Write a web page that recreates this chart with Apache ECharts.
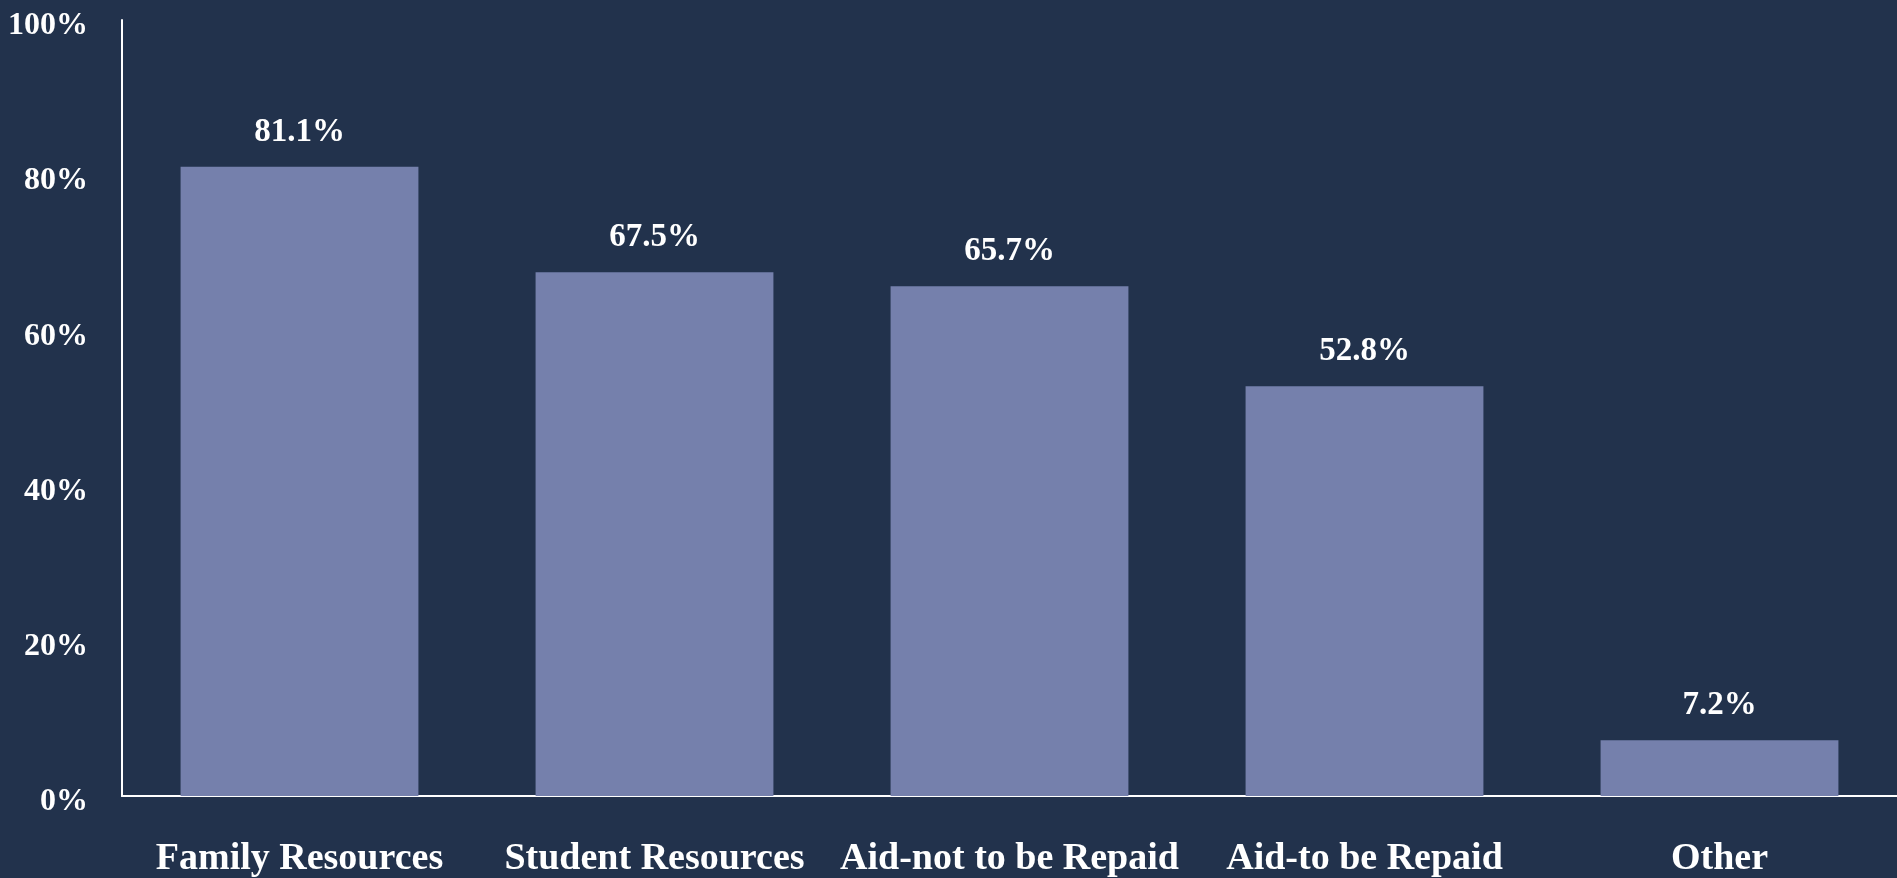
<!DOCTYPE html>
<html>
<head>
<meta charset="utf-8">
<script src="https://cdn.jsdelivr.net/npm/echarts@6/dist/echarts.min.js"></script>
<style>
  html, body { margin: 0; padding: 0; background: #22324c; }
  #chart { width: 1897px; height: 878px; }
</style>
</head>
<body>
<div id="chart"></div>
<script>
// data
const categories = ['Family Resources', 'Student Resources', 'Aid-not to be Repaid', 'Aid-to be Repaid', 'Other'];
const shares = [81.1, 67.5, 65.7, 52.8, 7.2];
const yTicks = [0, 20, 40, 60, 80, 100];

const serif = '"Liberation Serif", "DejaVu Serif", serif';

const chart = echarts.init(document.getElementById('chart'));
chart.setOption({
  backgroundColor: '#22324c',
  animation: false,
  grid: { left: 122, right: 0, top: 20, bottom: 82 },
  xAxis: {
    type: 'category',
    data: categories,
    axisLine: { lineStyle: { color: '#ffffff', width: 2 } },
    axisTick: { show: false },
    axisLabel: {
      color: '#ffffff',
      fontFamily: serif,
      fontSize: 38,
      fontWeight: 'bold',
      margin: 44,
      interval: 0
    }
  },
  yAxis: {
    type: 'value',
    min: yTicks[0],
    max: yTicks[yTicks.length - 1],
    interval: 20,
    axisLine: { show: true, lineStyle: { color: '#ffffff', width: 2 } },
    axisTick: { show: false },
    splitLine: { show: false },
    axisLabel: {
      margin: 34,
      formatter: '{t|{value}%}',
      rich: {
        t: {
          color: '#ffffff',
          fontFamily: serif,
          fontSize: 32,
          fontWeight: 'bold',
          padding: [12, 0, 0, 0]
        }
      }
    }
  },
  series: [
    {
      type: 'bar',
      data: shares,
      barCategoryGap: '33%',
      itemStyle: { color: '#7580ac' },
      label: {
        show: true,
        position: 'top',
        distance: 18,
        color: '#ffffff',
        fontFamily: serif,
        fontSize: 33,
        fontWeight: 'bold',
        formatter: (p) => p.value.toFixed(1) + '%'
      }
    }
  ]
});
</script>
</body>
</html>
